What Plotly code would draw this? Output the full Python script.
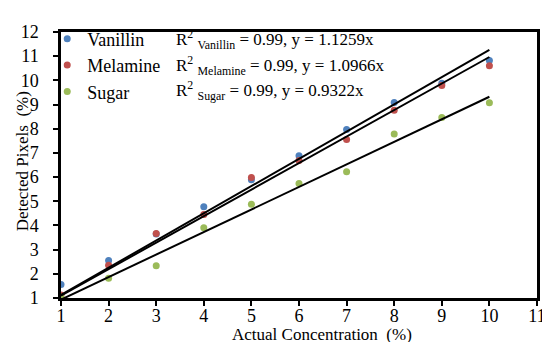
import plotly.graph_objects as go

concentration = [1, 2, 3, 4, 5, 6, 7, 8, 9, 10]
vanillin = [1.56, 2.55, 3.65, 4.77, 5.89, 6.88, 7.97, 9.08, 9.88, 10.82]
melamine = [1.12, 2.35, 3.67, 4.45, 5.98, 6.69, 7.55, 8.76, 9.79, 10.6]
sugar = [1.03, 1.82, 2.33, 3.91, 4.88, 5.73, 6.22, 7.78, 8.46, 9.07]

slopes = {"Vanillin": 1.1259, "Melamine": 1.0966, "Sugar": 0.9322}
colors = {"Vanillin": "#4F81BD", "Melamine": "#C0504D", "Sugar": "#9BBB59"}
series = {"Vanillin": vanillin, "Melamine": melamine, "Sugar": sugar}

FONT = "Liberation Serif"

fig = go.Figure()
for name, vals in series.items():
    fig.add_trace(go.Scatter(
        x=concentration, y=vals, mode="markers", name=name,
        legendgroup=name,
        marker=dict(color=colors[name], size=7),
    ))
for name, k in slopes.items():
    fig.add_trace(go.Scatter(
        x=[concentration[0], concentration[-1]],
        y=[k * concentration[0], k * concentration[-1]],
        mode="lines", line=dict(color="black", width=2),
        showlegend=False, hoverinfo="skip",
    ))

annotations = []
ann_y = [21, 48, 74]
for (name, k), yy in zip(slopes.items(), ann_y):
    annotations.append(dict(
        text=f"R<sup>2</sup> <sub>{name}</sub> = 0.99, y = {k:.4f}x",
        xref="paper", yref="paper",
        x=(168 - 53) / 484, y=1 - (yy - 13) / 277,
        xanchor="left", yanchor="middle", showarrow=False,
        font=dict(family=FONT, size=17, color="black"),
    ))
annotations.append(dict(
    text="Actual Concentration\u00a0\u00a0(%)", xref="paper", yref="paper",
    x=(318 - 53) / 484, y=-(328 - 290) / 277, xanchor="center", yanchor="middle",
    showarrow=False, font=dict(family=FONT, size=17, color="black"),
))
annotations.append(dict(
    text="Detected Pixels\u00a0\u00a0(%)", xref="paper", yref="paper",
    x=-(53 - 14) / 484, y=1 - (148 - 13) / 277, xanchor="center", yanchor="middle",
    textangle=-90, showarrow=False, font=dict(family=FONT, size=17, color="black"),
))

fig.update_layout(
    width=550, height=342,
    margin=dict(l=53, r=13, t=13, b=52),
    paper_bgcolor="white", plot_bgcolor="white",
    font=dict(family=FONT, size=18, color="black"),
    showlegend=True,
    legend=dict(
        x=-14 / 484, y=1 - (1 - 13) / 277, xanchor="left", yanchor="top",
        bgcolor="rgba(0,0,0,0)", font=dict(family=FONT, size=18),
        tracegroupgap=0, itemwidth=30,
    ),
    annotations=annotations,
)
fig.update_xaxes(
    range=[1, 11], tickvals=list(range(1, 12)), showgrid=False, zeroline=False,
    showline=True, linecolor="black", linewidth=2.5, mirror=True,
    ticks="outside", ticklen=5, tickwidth=2, tickcolor="black",
    tickfont=dict(family=FONT, size=18), ticklabelstandoff=-5,
)
fig.update_yaxes(
    range=[1, 12], tickvals=list(range(1, 13)), showgrid=False, zeroline=False,
    showline=True, linecolor="black", linewidth=2.5, mirror=True,
    ticks="outside", ticklen=5, tickwidth=2, tickcolor="black",
    tickfont=dict(family=FONT, size=18), ticklabelstandoff=11,
)

fig.write_html("out.html")
